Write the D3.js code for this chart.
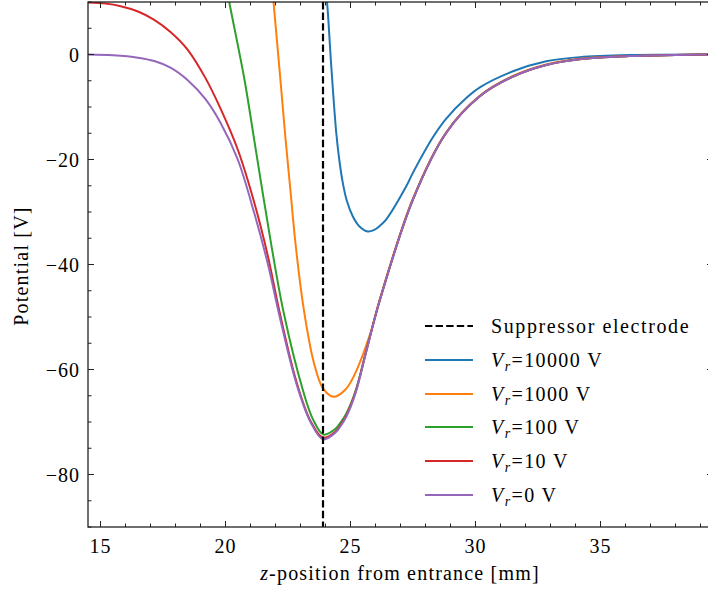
<!DOCTYPE html>
<html>
<head>
<meta charset="utf-8">
<script src="https://cdn.jsdelivr.net/npm/d3@7"></script>
<style>
  body { margin: 0; background: #fff; }
  svg { font-family: "Liberation Serif", "DejaVu Serif", serif; }
</style>
</head>
<body>
<svg id="chart" width="708" height="589"></svg>
<script>
// potential curves: [z (mm), potential (V)]
const curve10000 = [[24.0, 12], [24.06, 10], [24.23, -2.2], [24.43, -14.9], [24.55, -20], [24.69, -24.4], [24.85, -27.8],
    [25.09, -30.8], [25.35, -32.7], [25.69, -33.7], [25.95, -33.4], [26.16, -32.7], [26.43, -31.4], [27.23, -25.1],
    [27.5, -22.5], [28.29, -15.8], [28.83, -12.2], [29.63, -8.3], [30.16, -6.3], [31.5, -3.2], [32.83, -1.3],
    [34.16, -0.5], [36.16, -0.1], [39.5, 0]];
const curve1000 = [[21.88, 12], [21.92, 10], [22.2, -5], [22.4, -16], [22.6, -26], [22.8, -36], [23.13, -48.5],
    [23.53, -58.6], [23.9, -63.6], [24.33, -65.2], [24.8, -63.8], [25.13, -61.3], [25.8, -53], [26.16, -46.8],
    [27.5, -27.4], [28.83, -14.8], [30.16, -7.9], [31.5, -4.1], [32.83, -1.9], [34.16, -0.8], [36.16, -0.3],
    [38, -0.1], [39.5, 0]];
const curve100 = [[20.08, 12], [20.15, 10], [20.76, -4.8], [21.18, -17.2], [21.83, -36.2], [22.32, -49], [23.1, -64],
    [23.5, -69.5], [23.92, -72.4], [24.4, -71.3], [24.6, -70.1], [24.83, -68.4], [25.2, -64.1], [25.63, -56.4],
    [26.16, -47], [27.5, -27.6], [28.83, -14.9], [30.16, -8.0], [31.5, -4.2], [32.83, -2.0], [34.16, -0.9],
    [36.16, -0.3], [38, -0.1], [39.5, 0]];
const curve10 = [[14.5, 9.9], [15.2, 9.7], [15.81, 9.2], [16.5, 8.2], [17.15, 6.6], [17.8, 4.3], [18.49, 0.9],
    [19.2, -4.5], [19.82, -10.5], [20.49, -18.1], [21.15, -28.2], [21.7, -38.5], [22.16, -49], [22.83, -62.2],
    [23.4, -69.8], [23.9, -73.0], [24.4, -71.8], [24.6, -70.6], [24.83, -68.8], [25.2, -64.3], [25.63, -56.5],
    [26.16, -47], [27.5, -27.6], [28.83, -14.9], [30.16, -8.0], [31.5, -4.2], [32.83, -2.0], [34.16, -0.9],
    [36.16, -0.3], [38, -0.1], [39.5, 0]];
const curve0 = [[14.5, 0], [15.5, -0.15], [16.5, -0.6], [17.15, -1.25], [17.8, -2.5], [18.49, -4.9], [19.2, -8.5],
    [19.8, -13], [20.49, -20], [21.15, -30.2], [21.7, -40], [22.16, -49.8], [22.83, -62.6], [23.4, -70],
    [23.9, -73.3], [24.4, -72], [24.6, -70.8], [24.83, -69], [25.2, -64.5], [25.63, -56.6], [26.16, -47],
    [27.5, -27.6], [28.83, -14.9], [30.16, -8.0], [31.5, -4.2], [32.83, -2.0], [34.16, -0.9], [36.16, -0.3],
    [38, -0.1], [39.5, 0]];

const seriesNames = ["10000", "1000", "100", "10", "0"];
const seriesColors = ["#1f77b4", "#ff7f0e", "#2ca02c", "#d62728", "#9467bd"];
const seriesData = [curve10000, curve1000, curve100, curve10, curve0];
const suppressorZ = 23.9;

const xTicks = [15, 20, 25, 30, 35];
const yTicks = [0, -20, -40, -60, -80];

const margin = {left: 88, top: 2};
const innerW = 625, innerH = 525;

const svg = d3.select("#chart");
const g = svg.append("g").attr("transform", `translate(${margin.left},${margin.top})`);

const x = d3.scaleLinear().domain([14.5, 39.5]).range([0, innerW]);
const y = d3.scaleLinear().domain([-90, 10]).range([innerH, 0]);

g.append("clipPath").attr("id", "clip")
    .append("rect").attr("width", innerW).attr("height", innerH);

const plot = g.append("g").attr("clip-path", "url(#clip)");

const line = d3.line()
    .x(d => x(d[0]))
    .y(d => y(d[1]))
    .curve(d3.curveCatmullRom.alpha(0.5));

seriesData.forEach((s, i) => {
    plot.append("path")
        .datum(s)
        .attr("fill", "none")
        .attr("stroke", seriesColors[i])
        .attr("stroke-width", 2)
        .attr("d", line);
});

plot.append("line")
    .attr("x1", x(suppressorZ)).attr("x2", x(suppressorZ))
    .attr("y1", 0).attr("y2", innerH)
    .attr("stroke", "#000")
    .attr("stroke-width", 2.2)
    .attr("stroke-dasharray", "7.4,3.2");

// ticks, all pointing inward
const tickColor = "#222";
const xMinor = d3.range(15, 40, 1);
const yMinor = d3.range(-90, 11, 5);

const axes = g.append("g");
xMinor.forEach(t => {
    const major = xTicks.includes(t);
    const len = major ? 6 : 3.5;
    axes.append("line").attr("x1", x(t)).attr("x2", x(t)).attr("y1", innerH).attr("y2", innerH - len)
        .attr("stroke", tickColor).attr("stroke-width", 1);
    axes.append("line").attr("x1", x(t)).attr("x2", x(t)).attr("y1", 0).attr("y2", len)
        .attr("stroke", tickColor).attr("stroke-width", 1);
});
yMinor.forEach(t => {
    const major = yTicks.includes(t);
    const len = major ? 6 : 3.5;
    axes.append("line").attr("x1", 0).attr("x2", len).attr("y1", y(t)).attr("y2", y(t))
        .attr("stroke", tickColor).attr("stroke-width", 1);
    axes.append("line").attr("x1", innerW).attr("x2", innerW - len).attr("y1", y(t)).attr("y2", y(t))
        .attr("stroke", tickColor).attr("stroke-width", 1);
});

axes.append("rect")
    .attr("width", innerW).attr("height", innerH)
    .attr("fill", "none").attr("stroke", tickColor).attr("stroke-width", 1.3);

xTicks.forEach(t => {
    axes.append("text")
        .attr("x", x(t)).attr("y", innerH + 26)
        .attr("text-anchor", "middle")
        .attr("font-size", 20)
        .attr("letter-spacing", 1)
        .text(t);
});
yTicks.forEach(t => {
    axes.append("text")
        .attr("x", -8).attr("y", y(t) + 7)
        .attr("text-anchor", "end")
        .attr("font-size", 20)
        .attr("letter-spacing", 1)
        .text(t < 0 ? "\u2212" + Math.abs(t) : t);
});

// axis labels
const xl = svg.append("text")
    .attr("x", 400).attr("y", 580)
    .attr("text-anchor", "middle")
    .attr("font-size", 20)
    .attr("letter-spacing", 1.2);
xl.append("tspan").attr("font-style", "italic").text("z");
xl.append("tspan").text("-position from entrance [mm]");

svg.append("text")
    .attr("transform", "translate(28,266) rotate(-90)")
    .attr("text-anchor", "middle")
    .attr("font-size", 20)
    .attr("letter-spacing", 1.2)
    .text("Potential [V]");

// legend
const legend = svg.append("g");
const rowY = [326, 360, 394, 427, 461, 495];
legend.append("line")
    .attr("x1", 425).attr("x2", 473).attr("y1", rowY[0]).attr("y2", rowY[0])
    .attr("stroke", "#000").attr("stroke-width", 2.2).attr("stroke-dasharray", "7.4,3.2");
legend.append("text")
    .attr("x", 491).attr("y", rowY[0] + 7)
    .attr("font-size", 20)
    .attr("letter-spacing", 1.6)
    .text("Suppressor electrode");

seriesNames.forEach((n, i) => {
    const yy = rowY[i + 1];
    legend.append("line")
        .attr("x1", 425).attr("x2", 473).attr("y1", yy).attr("y2", yy)
        .attr("stroke", seriesColors[i]).attr("stroke-width", 2);
    const t = legend.append("text")
        .attr("x", 491).attr("y", yy + 7)
        .attr("font-size", 20)
        .attr("letter-spacing", 1.4);
    t.append("tspan").attr("font-style", "italic").text("V");
    t.append("tspan").attr("font-style", "italic").attr("font-size", 14).attr("dy", 4).text("r");
    t.append("tspan").attr("dy", -4).text("=" + n + " V");
});
</script>
</body>
</html>
